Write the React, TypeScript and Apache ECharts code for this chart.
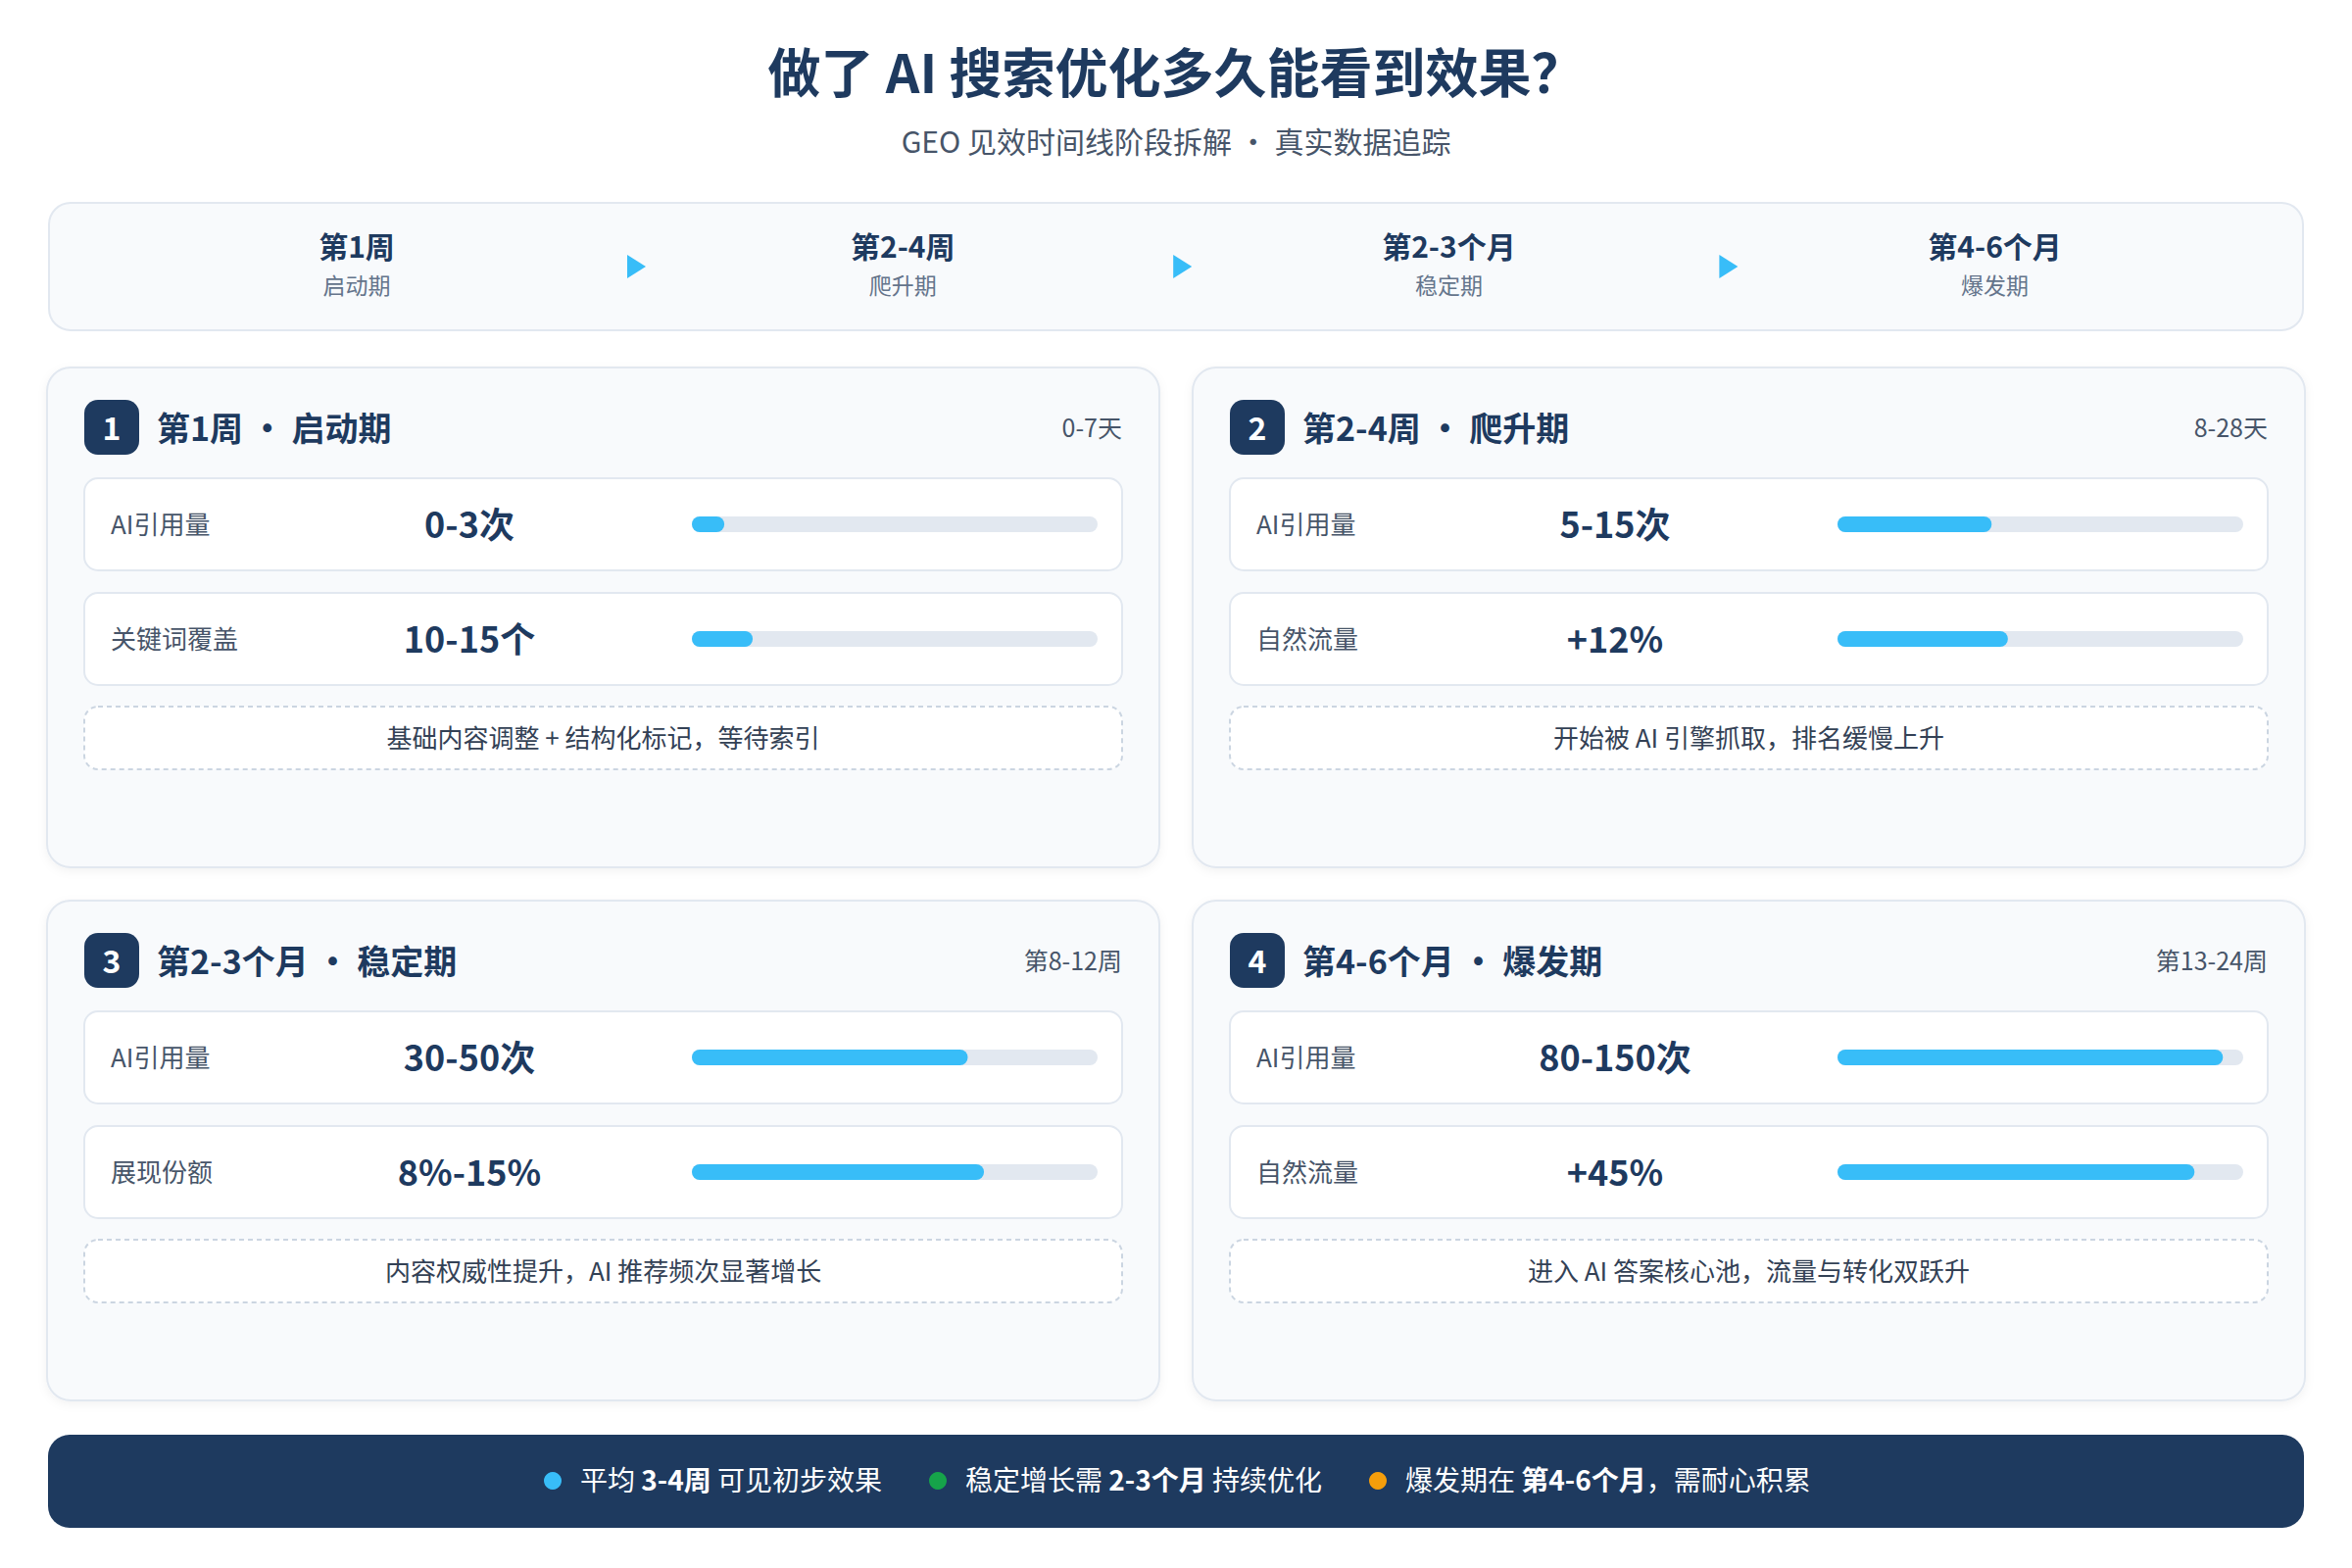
import { useEffect, useRef } from 'react'
import * as echarts from 'echarts'

// timeline header
const timelineStages = ['第1周', '第2-4周', '第2-3个月', '第4-6个月']
const timelinePhases = ['启动期', '爬升期', '稳定期', '爆发期']

// phase cards
const cardRanges = ['0-7天', '8-28天', '第8-12周', '第13-24周']
const metricLabels = [
  ['AI引用量', '关键词覆盖'],
  ['AI引用量', '自然流量'],
  ['AI引用量', '展现份额'],
  ['AI引用量', '自然流量'],
]
const metricValues = [
  ['0-3次', '10-15个'],
  ['5-15次', '+12%'],
  ['30-50次', '8%-15%'],
  ['80-150次', '+45%'],
]
// progress bar fill, percent of track
const metricProgress = [
  [8, 15],
  [38, 42],
  [68, 72],
  [95, 88],
]
const cardNotes = [
  '基础内容调整 + 结构化标记，等待索引',
  '开始被 AI 引擎抓取，排名缓慢上升',
  '内容权威性提升，AI 推荐频次显著增长',
  '进入 AI 答案核心池，流量与转化双跃升',
]

// footer tips
const tipLead = ['平均 ', '稳定增长需 ', '爆发期在 ']
const tipBold = ['3-4周', '2-3个月', '第4-6个月']
const tipTail = [' 可见初步效果', ' 持续优化', '，需耐心积累']
const tipColors = ['#38bdf8', '#16a34a', '#f59e0b']

const FONT = '"Noto Sans CJK SC", "Noto Sans", sans-serif'
const NAVY = '#1e3a5f'
const SKY = '#38bdf8'
const BORDER = '#e2e8f0'

const CARD_X = [48, 1217]
const CARD_Y = [375, 919]
const CARD_W = 1135
const CARD_H = 510
const PAD = 38
const ROW_TOP = [113, 230]
const ROW_H = 94
const BAR_OFFSET = 620
const BAR_W = 414
const BAR_H = 16

function txt(x: number, y: number, text: string, size: number, fill: string, weight: any = 'normal', align = 'center') {
  return {
    type: 'text',
    x,
    y: y - 2,
    z: 5,
    style: {
      text,
      fill,
      fontSize: size,
      fontWeight: weight,
      fontFamily: FONT,
      textAlign: align,
      textVerticalAlign: 'middle',
    },
  }
}

function buildOption() {
  const graphics: any[] = []

  graphics.push(txt(1200, 73, '做了 AI 搜索优化多久能看到效果？', 54, NAVY, 'bold'))
  graphics.push(txt(1200, 145, 'GEO 见效时间线阶段拆解 · 真实数据追踪', 30, '#475569'))

  // timeline strip
  graphics.push({
    type: 'rect',
    z: 1,
    shape: { x: 50, y: 207, width: 2300, height: 130, r: 22 },
    style: { fill: '#f8fafc', stroke: BORDER, lineWidth: 2 },
  })
  const stepX = 557.2
  timelineStages.forEach((s, i) => {
    const cx = 364 + i * stepX
    graphics.push(txt(cx, 252, s, 30, NAVY, 'bold'))
    graphics.push(txt(cx, 292, timelinePhases[i], 23, '#64748b'))
    if (i < timelineStages.length - 1) {
      const ax = 649 + i * stepX
      graphics.push({
        type: 'polygon',
        z: 5,
        shape: { points: [[ax - 9, 260], [ax + 10, 272], [ax - 9, 284]] },
        style: { fill: SKY },
      })
    }
  })

  const grids: any[] = []
  const xAxes: any[] = []
  const yAxes: any[] = []
  const series: any[] = []

  cardRanges.forEach((range, c) => {
    const cx = CARD_X[c % 2]
    const cy = CARD_Y[Math.floor(c / 2)]

    graphics.push({
      type: 'rect',
      z: 1,
      shape: { x: cx, y: cy, width: CARD_W, height: CARD_H, r: 24 },
      style: {
        fill: '#f8fafc',
        stroke: BORDER,
        lineWidth: 2,
        shadowBlur: 10,
        shadowOffsetY: 3,
        shadowColor: 'rgba(15, 23, 42, 0.05)',
      },
    })

    // number badge + heading
    graphics.push({
      type: 'rect',
      z: 2,
      shape: { x: cx + PAD, y: cy + 33, width: 56, height: 56, r: 14 },
      style: { fill: NAVY },
    })
    graphics.push(txt(cx + PAD + 28, cy + 62, String(c + 1), 32, '#ffffff', 'bold'))
    graphics.push(txt(cx + 112, cy + 62, `${timelineStages[c]} · ${timelinePhases[c]}`, 34, NAVY, 'bold', 'left'))
    graphics.push(txt(cx + CARD_W - PAD, cy + 62, range, 25, '#475569', 'normal', 'right'))

    metricLabels[c].forEach((label, r) => {
      const rx = cx + PAD
      const ry = cy + ROW_TOP[r]
      const mid = ry + ROW_H / 2
      graphics.push({
        type: 'rect',
        z: 2,
        shape: { x: rx, y: ry, width: CARD_W - PAD * 2, height: ROW_H, r: 14 },
        style: { fill: '#ffffff', stroke: BORDER, lineWidth: 2 },
      })
      graphics.push(txt(rx + 27, mid, label, 26, '#475569', 'normal', 'left'))
      graphics.push(txt(rx + 393, mid, metricValues[c][r], 36, NAVY, 'bold'))

      const gi = grids.length
      grids.push({
        left: rx + BAR_OFFSET,
        top: mid - BAR_H / 2,
        width: BAR_W,
        height: BAR_H,
        outerBoundsMode: 'none',
      })
      xAxes.push({ gridIndex: gi, type: 'value', min: 0, max: 100, show: false })
      yAxes.push({ gridIndex: gi, type: 'category', data: [label], show: false })
      series.push({
        type: 'bar',
        xAxisIndex: gi,
        yAxisIndex: gi,
        z: 10,
        barWidth: BAR_H,
        data: [metricProgress[c][r]],
        showBackground: true,
        backgroundStyle: { color: BORDER, borderRadius: BAR_H / 2 },
        itemStyle: { color: SKY, borderRadius: BAR_H / 2 },
        silent: true,
      })
    })

    // note box
    graphics.push({
      type: 'rect',
      z: 2,
      shape: { x: cx + PAD, y: cy + 346, width: CARD_W - PAD * 2, height: 64, r: 14 },
      style: { fill: '#ffffff', stroke: '#cbd5e1', lineWidth: 2, lineDash: [5, 4] },
    })
    graphics.push(txt(cx + CARD_W / 2, cy + 378, cardNotes[c], 26, '#334155'))
  })

  // footer banner
  graphics.push({
    type: 'rect',
    z: 1,
    shape: { x: 49, y: 1464, width: 2302, height: 95, r: 22 },
    style: { fill: NAVY },
  })
  const dotX = [564, 957, 1406]
  tipLead.forEach((lead, i) => {
    graphics.push({
      type: 'circle',
      z: 5,
      shape: { cx: dotX[i], cy: 1511, r: 9 },
      style: { fill: tipColors[i] },
    })
    graphics.push({
      type: 'text',
      x: dotX[i] + 28,
      y: 1509,
      z: 5,
      style: {
        text: `${lead}{b|${tipBold[i]}}${tipTail[i]}`,
        fill: '#ffffff',
        fontSize: 28,
        fontFamily: FONT,
        textAlign: 'left',
        textVerticalAlign: 'middle',
        rich: {
          b: { fill: '#ffffff', fontSize: 28, fontWeight: 'bold', fontFamily: FONT },
        },
      },
    })
  })

  return {
    animation: false,
    backgroundColor: '#ffffff',
    grid: grids,
    xAxis: xAxes,
    yAxis: yAxes,
    series,
    graphic: { elements: graphics },
  }
}

export default function App() {
  const chartRef = useRef<HTMLDivElement>(null)

  useEffect(() => {
    if (!chartRef.current) return
    document.body.style.margin = '0'
    const chart = echarts.init(chartRef.current, undefined, { renderer: 'svg' })
    chart.setOption(buildOption())
    return () => {
      chart.dispose()
    }
  }, [])

  return <div ref={chartRef} style={{ width: '2400px', height: '1600px' }} />
}
